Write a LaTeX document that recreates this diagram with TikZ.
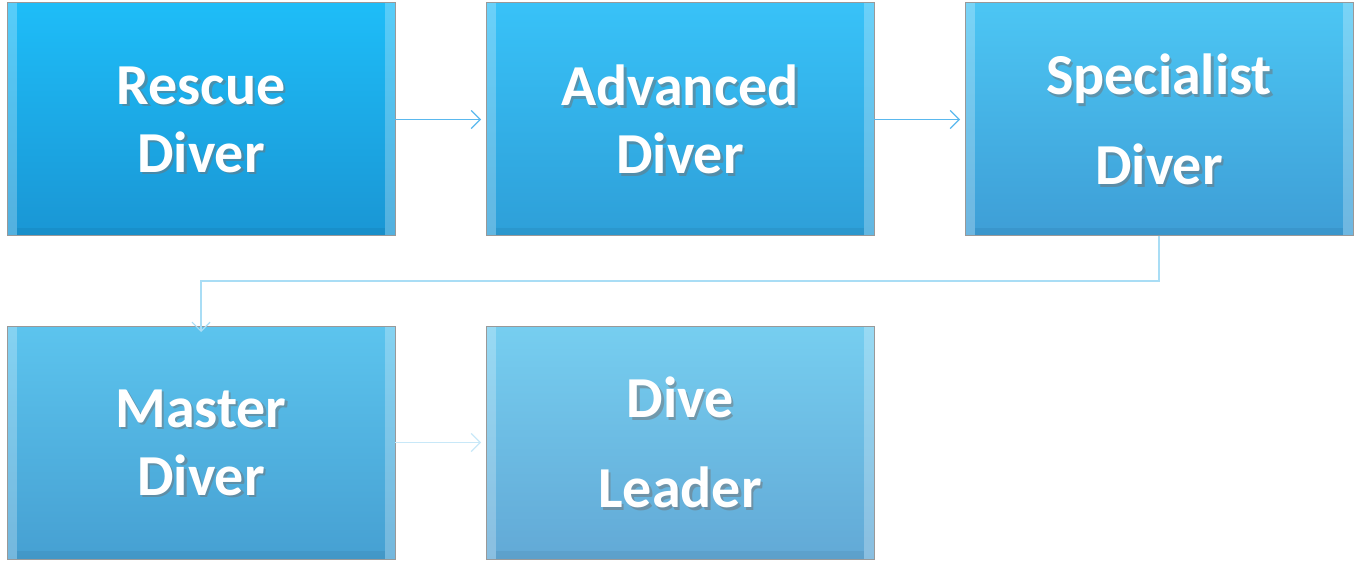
\documentclass[tikz,border=0pt]{standalone}
\usepackage{fontspec}
\setmainfont{Carlito}
\usetikzlibrary{arrows.meta}
\definecolor{aone}{HTML}{5AB8EE}
\definecolor{atwo}{HTML}{A9DDF5}
\definecolor{athree}{HTML}{C8E8F8}
\definecolor{t1}{HTML}{1EBDF8}\definecolor{b1}{HTML}{1A96D4}
\definecolor{t2}{HTML}{38C2F8}\definecolor{b2}{HTML}{2E9FD8}
\definecolor{t3}{HTML}{4CC6F4}\definecolor{b3}{HTML}{3E9ED6}
\definecolor{t4}{HTML}{5CC4EE}\definecolor{b4}{HTML}{46A0D2}
\definecolor{t5}{HTML}{76CEF0}\definecolor{b5}{HTML}{62A9D6}
\tikzset{
 lbl/.style={text=white,font=\bfseries\fontsize{58}{68}\selectfont,align=center},
 shd/.style={text=black!55,font=\bfseries\fontsize{58}{68}\selectfont,align=center,opacity=0.5},
 conn/.style={line width=1.2pt,-{Straight Barb[length=9pt,width=18pt]}}
}
\newcommand\dbox[6]{% name, x, y, top, bottom, text
 \shade[top color=#4,bottom color=#5] (#2,#3) rectangle ++(388,233);
 \fill[white,opacity=0.25] (#2,#3) rectangle ++(10,233);
 \fill[white,opacity=0.25] (#2+378,#3) rectangle ++(10,233);
 \fill[black,opacity=0.05] (#2+10,#3+225) rectangle ++(368,8);
 \draw[black!40,line width=1pt] (#2,#3) rectangle ++(388,233);
 \node[shd] at (#2+196.5,#3+119) {#6};
 \node[lbl] (#1) at (#2+194,#3+116.5) {#6};
 \coordinate (#1w) at (#2,#3+116.5);
 \coordinate (#1e) at (#2+388,#3+116.5);
 \coordinate (#1s) at (#2+194,#3+233);
 \coordinate (#1n) at (#2+194,#3);
}
\begin{document}
\begin{tikzpicture}[x=1pt,y=-1pt]
\useasboundingbox (0,0) rectangle (1359,569);
\dbox{a}{7}{3}{t1}{b1}{Rescue\\Diver}
\dbox{b}{486}{3}{t2}{b2}{Advanced\\Diver}
\dbox{c}{965}{3}{t3}{b3}{Specialist\\[22pt]Diver}
\dbox{d}{7}{326}{t4}{b4}{Master\\Diver}
\dbox{e}{486}{326}{t5}{b5}{Dive\\[22pt]Leader}
\draw[conn,aone] (ae) -- ++(86,0);
\draw[conn,aone] (be) -- ++(86,0);
\draw[conn,atwo] (cs) -- ++(0,45) -| ([yshift=-6]dn);
\draw[conn,athree] (de) -- ++(86,0);
\end{tikzpicture}
\end{document}
